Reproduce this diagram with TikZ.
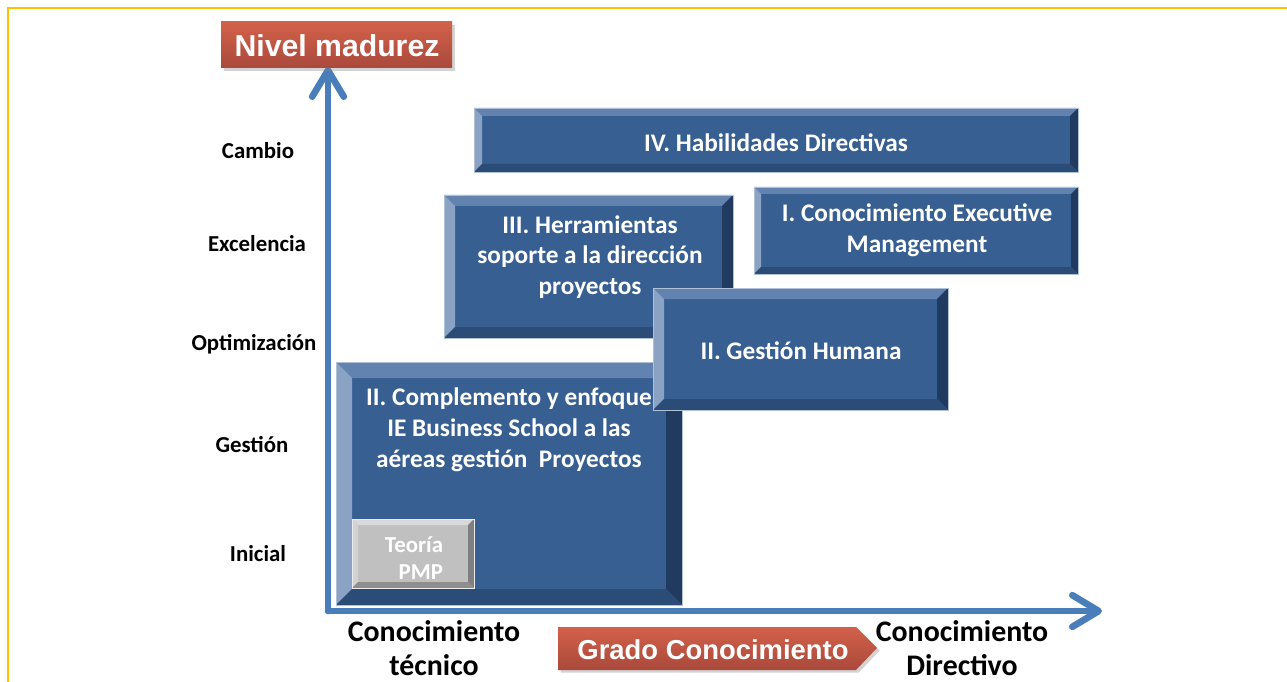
\documentclass[tikz,border=0pt]{standalone}
\usepackage{fontspec}
\setmainfont{Carlito}
\newfontfamily\arialfont{Liberation Sans}
\usetikzlibrary{arrows.meta,shadows}

\definecolor{bluemid}{HTML}{375F92}
\definecolor{bluetop}{HTML}{6283AF}
\definecolor{blueleft}{HTML}{8AA2C4}
\definecolor{blueright}{HTML}{213B60}
\definecolor{bluebot}{HTML}{2C4C78}
\definecolor{graymid}{HTML}{C0C0C0}
\definecolor{graytop}{HTML}{D9D9D9}
\definecolor{grayleft}{HTML}{D2D2D2}
\definecolor{grayright}{HTML}{7F7F7F}
\definecolor{graybot}{HTML}{8E8E8E}
\definecolor{axisblue}{HTML}{4A7EBB}
\definecolor{redtop}{HTML}{D3614A}
\definecolor{redbot}{HTML}{A9493B}
\definecolor{gold}{HTML}{FFC000}

% caja con bisel: color, x1, y1, x2, y2, ancho del bisel
\newcommand{\bevel}[6]{%
  \fill[#1mid] (#2,#3) rectangle (#4,#5);
  \fill[#1top] (#2,#3) -- (#4,#3) -- (#4-#6,#3+#6) -- (#2+#6,#3+#6) -- cycle;
  \fill[#1left] (#2,#3) -- (#2+#6,#3+#6) -- (#2+#6,#5-#6) -- (#2,#5) -- cycle;
  \fill[#1right] (#4,#3) -- (#4,#5) -- (#4-#6,#5-#6) -- (#4-#6,#3+#6) -- cycle;
  \fill[#1bot] (#2,#5) -- (#4,#5) -- (#4-#6,#5-#6) -- (#2+#6,#5-#6) -- cycle;
  \draw[#1top!50!white,line width=0.4pt] (#2,#3) rectangle (#4,#5);
}

\begin{document}
\begin{tikzpicture}[x=0.02cm,y=-0.02cm,
    axis/.style={draw=axisblue,line width=3.8pt,line cap=round,
      -{Straight Barb[length=15pt,width=18pt,round]}},
    nivel/.style={font=\fontsize{13}{15}\selectfont\bfseries},
    boxtxt/.style={text=white,align=center,font=\fontsize{14.4}{17.5}\selectfont\bfseries},
    grado/.style={align=center,font=\fontsize{17}{19.5}\selectfont\bfseries},
    cinta/.style={top color=redtop,bottom color=redbot,
      drop shadow={opacity=0.35,shadow xshift=1.5pt,shadow yshift=-1.5pt}}]

    \useasboundingbox (0,0) rectangle (1287,682);

    % marco
    \draw[gold,line width=1.7pt] (8,682) -- (8,8) -- (1287,8);

    % cajas de conocimiento
    \bevel{blue}{444}{195}{733}{338}{11}
    \node[boxtxt] (herr) at (590,257) {III. Herramientas\\soporte a la dirección\\proyectos};
    \bevel{blue}{754}{187}{1078}{274}{7}
    \node[boxtxt] (exec) at (917,230) {I. Conocimiento Executive\\Management};
    \bevel{blue}{474}{108}{1078}{172}{8}
    \node[boxtxt] (habil) at (776,143) {IV. Habilidades Directivas};
    \bevel{blue}{336}{362}{682}{605}{16}
    \node[boxtxt] (compl) at (509,430) {II. Complemento y enfoque\\IE Business School a las\\aéreas gestión~ Proyectos};
    \bevel{gray}{352}{519}{474}{588}{6}
    \node[text=white,align=center,font=\fontsize{13}{15.3}\selectfont\bfseries] (pmp) at (414,558) {Teoría\\\hspace*{0.6em}PMP};
    \bevel{blue}{653}{288}{948}{410}{11}
    \node[boxtxt] (human) at (801,351) {II. Gestión Humana};

    % ejes
    \coordinate (O) at (328,611);
    \coordinate (Ytip) at (328,67);
    \coordinate (Xtip) at (1102,611);
    \draw[axis] (O) -- (Ytip);
    \draw[axis] (O) -- (Xtip);

    % etiquetas de los ejes
    \shade[cinta] (221,22) rectangle (452,68);
    \node[text=white,font=\fontsize{17.2}{20}\selectfont\arialfont\bfseries] (madurez) at (337,46) {Nivel madurez};
    \shade[cinta] (558,627) -- (856,627) -- (877,648) -- (856,670) -- (558,670) -- cycle;
    \node[text=white,font=\fontsize{15.6}{18}\selectfont\arialfont\bfseries] (gradoc) at (713,650) {Grado Conocimiento};

    % niveles
    \node[nivel] (cambio) at (258,151) {Cambio};
    \node[nivel] (excel) at (257,244) {Excelencia};
    \node[nivel] (optim) at (254,344) {Optimización};
    \node[nivel] (gestion) at (252,445) {Gestión};
    \node[nivel] (inicial) at (258,554) {Inicial};

    % extremos del eje horizontal
    \node[grado] (tecnico) at (434,648) {Conocimiento\\técnico};
    \node[grado] (directivo) at (962,648) {Conocimiento\\Directivo};
\end{tikzpicture}
\end{document}
